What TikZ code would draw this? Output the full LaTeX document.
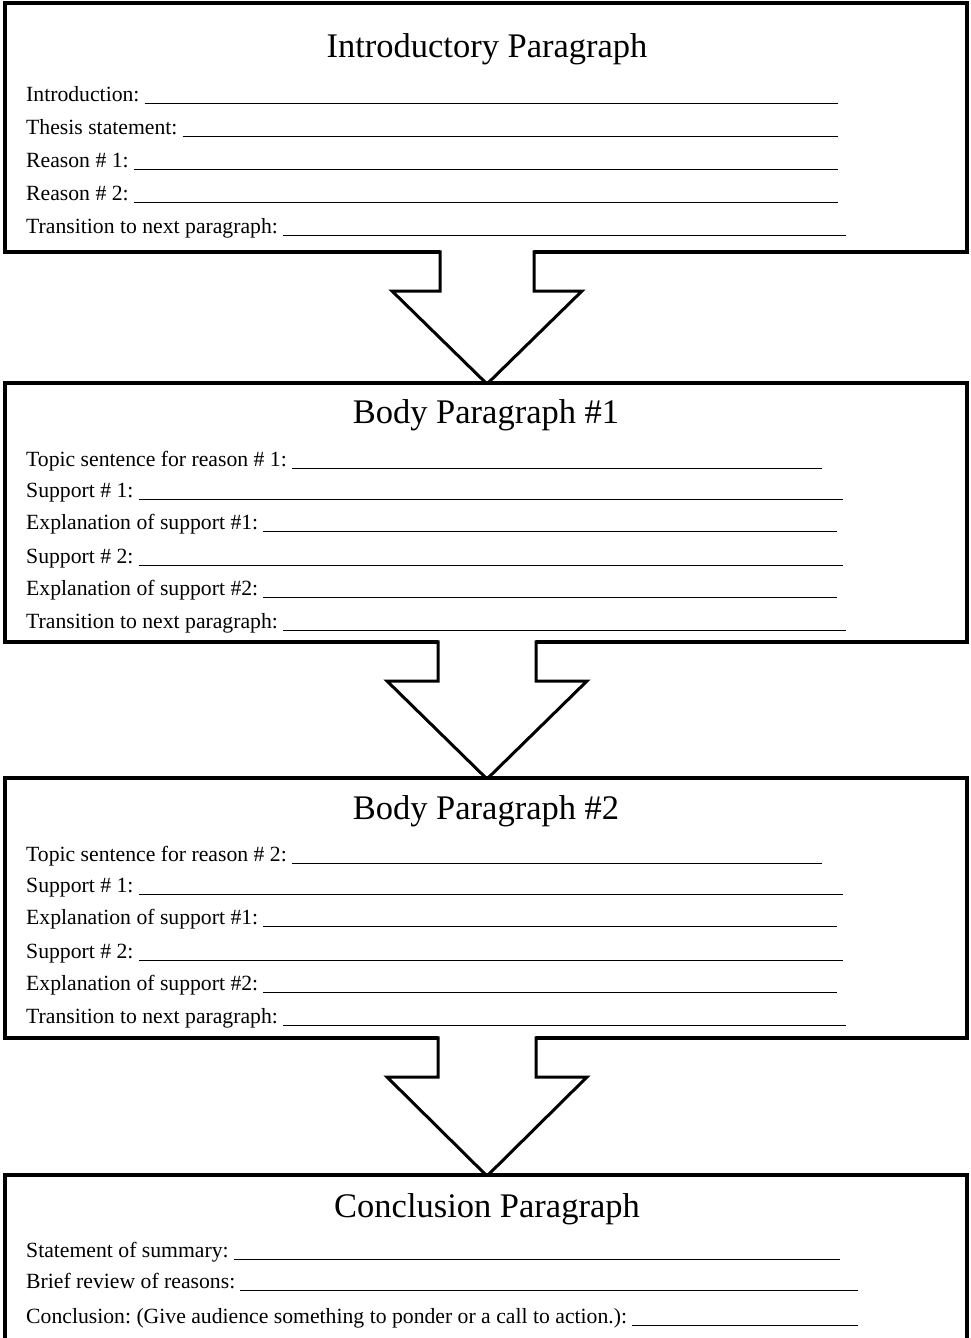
\documentclass[tikz,border=0pt]{standalone}
\usepackage{fontspec}
\setmainfont{Liberation Serif}
\usepackage{tikz}
\frenchspacing

% label with a blank to fill in: name, baseline, text, end of blank
\newcommand\formline[4]{%
  \node[lbl] (#1) at (26,#2) {#3};
  \draw[blank] (#1.base east) ++(5,2.5) -- (#4,#2+2.5);
}

\begin{document}
\begin{tikzpicture}[x=1pt,y=-1pt,
    panel/.style={draw=black,line width=3.5pt,fill=white,line join=miter},
    bigarrow/.style={draw=black,line width=3pt,line join=miter},
    title/.style={anchor=base,inner sep=0pt,font=\fontsize{34.5}{40}\selectfont},
    lbl/.style={anchor=base west,inner sep=0pt,font=\fontsize{21.7}{26}\selectfont},
    blank/.style={line width=1.2pt}]
  \useasboundingbox (0,0) rectangle (971,1338);
  \clip (0,0) rectangle (971,1338);

  % introductory paragraph
  \draw[panel] (5,3) rectangle (967,252);
  \node[title] (intro) at (487,57) {Introductory Paragraph};
  \formline{introduction}{101}{Introduction:}{838}
  \formline{thesis}{134}{Thesis statement:}{838}
  \formline{reasonA}{167}{Reason \# 1:}{838}
  \formline{reasonB}{200}{Reason \# 2:}{838}
  \formline{introtrans}{233}{Transition to next paragraph:}{846}

  % arrow 1
  \fill[white] (440,249) -- (440,291) -- (392,291) -- (487,384) -- (582,291) -- (534,291) -- (534,249) -- cycle;
  \draw[bigarrow] (440,250.25) -- (440,291) -- (392,291) -- (487,384) -- (582,291) -- (534,291) -- (534,250.25);

  % body paragraph 1
  \draw[panel] (5,383) rectangle (967,642);
  \node[title] (bodyA) at (486,423) {Body Paragraph \#1};
  \formline{topicA}{466}{Topic sentence for reason \# 1:}{822}
  \formline{supAA}{497}{Support \# 1:}{843}
  \formline{expAA}{529}{Explanation of support \#1:}{837}
  \formline{supAB}{563}{Support \# 2:}{843}
  \formline{expAB}{595}{Explanation of support \#2:}{837}
  \formline{bodyAtrans}{628}{Transition to next paragraph:}{846}

  % arrow 2
  \fill[white] (438,639) -- (438,681) -- (387,681) -- (487,779) -- (587,681) -- (536,681) -- (536,639) -- cycle;
  \draw[bigarrow] (438,640.25) -- (438,681) -- (387,681) -- (487,779) -- (587,681) -- (536,681) -- (536,640.25);

  % body paragraph 2
  \draw[panel] (5,778) rectangle (967,1038);
  \node[title] (bodyB) at (486,819) {Body Paragraph \#2};
  \formline{topicB}{861}{Topic sentence for reason \# 2:}{822}
  \formline{supBA}{892}{Support \# 1:}{843}
  \formline{expBA}{924}{Explanation of support \#1:}{837}
  \formline{supBB}{958}{Support \# 2:}{843}
  \formline{expBB}{990}{Explanation of support \#2:}{837}
  \formline{bodyBtrans}{1023}{Transition to next paragraph:}{846}

  % arrow 3
  \fill[white] (438,1035) -- (438,1077) -- (387,1077) -- (487,1176) -- (587,1077) -- (536,1077) -- (536,1035) -- cycle;
  \draw[bigarrow] (438,1036.25) -- (438,1077) -- (387,1077) -- (487,1176) -- (587,1077) -- (536,1077) -- (536,1036.25);

  % conclusion paragraph
  \draw[panel] (5,1175) rectangle (967,1350);
  \node[title] (concl) at (487,1217) {Conclusion Paragraph};
  \formline{summary}{1257}{Statement of summary:}{840}
  \formline{review}{1288}{Brief review of reasons:}{858}
  \formline{ending}{1323}{Conclusion: (Give audience something to ponder or a call to action.):}{858}
\end{tikzpicture}
\end{document}
